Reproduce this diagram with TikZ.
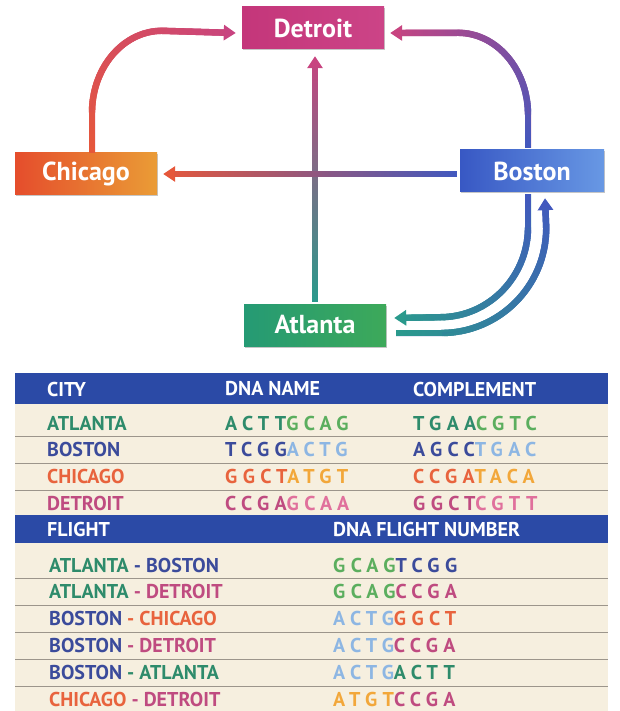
\documentclass[tikz,border=0pt]{standalone}
\usepackage{fontspec}
\setmainfont{PT Sans}
\usetikzlibrary{positioning,arrows.meta,decorations.markings,shadows}

\definecolor{atlD}{HTML}{2E8B6B}
\definecolor{atlL}{HTML}{5BAE5E}
\definecolor{bosD}{HTML}{3B4B9B}
\definecolor{bosL}{HTML}{8DB6E3}
\definecolor{chiD}{HTML}{E8633D}
\definecolor{chiL}{HTML}{F2A73A}
\definecolor{detD}{HTML}{BF4B80}
\definecolor{detL}{HTML}{E0709C}
\definecolor{headBlue}{HTML}{2B4AA6}
\definecolor{cream}{HTML}{F6EFDF}
\definecolor{rowGray}{HTML}{9C958B}
\definecolor{flowChi}{HTML}{E6573A}
\definecolor{flowDet}{HTML}{C84480}
\definecolor{flowBos}{HTML}{4258BE}
\definecolor{flowAtl}{HTML}{2A9A8C}
\definecolor{detBoxA}{HTML}{C4367A}
\definecolor{detBoxB}{HTML}{CC4487}
\definecolor{chiBoxA}{HTML}{E54D2C}
\definecolor{chiBoxB}{HTML}{EA9C36}
\definecolor{bosBoxA}{HTML}{3858C4}
\definecolor{bosBoxB}{HTML}{6898E4}
\definecolor{atlBoxA}{HTML}{259A74}
\definecolor{atlBoxB}{HTML}{3DA95A}

\newcommand{\tabfont}{\fontsize{20}{24}\selectfont\bfseries}
\newcommand{\dna}[4]{{\addfontfeature{LetterSpace=27}\textcolor{#1}{#2}\textcolor{#3}{#4}}}

\tikzset{
	citybox/.style={minimum width=142pt,minimum height=42pt,inner sep=0pt,
		text=white,font=\fontsize{26}{30}\selectfont\bfseries,
		drop shadow={shadow xshift=1.2pt,shadow yshift=-1.5pt,opacity=0.45}},
	flow/.style 2 args={line width=6pt,draw=#2,-{Triangle[length=12pt,width=15pt]},
		postaction={decorate,decoration={markings,
			mark=between positions 0 and -11pt step 0.5pt with {
				\pgfmathtruncatemacro\fpos{\pgfkeysvalueof{/pgf/decoration/mark info/distance from start}/\pgfdecoratedpathlength*100}
				\fill[#2!\fpos!#1] (-0.45pt,-3.2pt) rectangle (0.45pt,3.2pt);}}}},
	celltext/.style={anchor=west,inner sep=0pt,font=\tabfont},
	headtext/.style={celltext,text=white},
	rowline/.style={draw=rowGray,line width=0.8pt}
}

\begin{document}
\begin{tikzpicture}[x=1pt,y=1pt]
	\useasboundingbox (0,0) rectangle (620,-711);
	% city boxes
	\node[citybox,left color=detBoxA,right color=detBoxB] (detroit) at (313,-28) {Detroit};
	\node[citybox,left color=chiBoxA,right color=chiBoxB] (chicago) at (86,-174) {Chicago};
	\node[citybox,minimum width=144pt,left color=bosBoxA,right color=bosBoxB] (boston) at (532,-171) {Boston};
	\node[citybox,left color=atlBoxA,right color=atlBoxB] (atlanta) at (315,-325) {Atlanta};
	% flights
	\draw[flow={flowChi}{flowDet}] ([xshift=6pt]chicago.north) -- ++(0,40)
		arc[start angle=180,end angle=90,x radius=70,y radius=82] -- ([xshift=-6pt,yshift=-5pt]detroit.west);
	\draw[flow={flowBos}{flowDet}] ([xshift=-4pt,yshift=2pt]boston.north) -- ++(0,33)
		arc[start angle=0,end angle=90,x radius=70,y radius=82] -- ([xshift=6pt,yshift=-5pt]detroit.east);
	\draw[flow={flowAtl}{flowDet}] ([yshift=2pt]atlanta.north) -- ([xshift=2pt,yshift=-7pt]detroit.south);
	\draw[flow={flowBos}{flowChi}] ([xshift=-3pt]boston.west |- chicago) -- ([xshift=6pt]chicago.east);
	\draw[flow={flowBos}{flowAtl}] ([xshift=-4pt,yshift=-2pt]boston.south) -- ++(0,-33)
		arc[start angle=0,end angle=-90,x radius=88,y radius=90] -- ([xshift=8pt,yshift=7pt]atlanta.east);
	\draw[flow={flowAtl}{flowBos}] ([xshift=10pt,yshift=-8pt]atlanta.east) -- ++(45,0)
		arc[start angle=-90,end angle=0,x radius=105,y radius=105] -- ([xshift=13pt,yshift=-6pt]boston.south);
	% tables
	\fill[cream] (15,-402) rectangle (608,-711);
	\fill[headBlue] (15,-373) rectangle (608,-404);
	\fill[headBlue] (15,-515) rectangle (608,-543);
	\draw[rowline] (15,-436) -- (608,-436);
	\draw[rowline] (15,-463) -- (608,-463);
	\draw[rowline] (15,-490) -- (608,-490);
	\draw[rowline] (15,-578) -- (608,-578);
	\draw[rowline] (15,-605) -- (608,-605);
	\draw[rowline] (15,-632) -- (608,-632);
	\draw[rowline] (15,-659) -- (608,-659);
	\draw[rowline] (15,-686) -- (608,-686);
	\node[headtext] (hcity) at (47,-389) {CITY};
	\node[headtext] (hname) at (225,-389) {DNA NAME};
	\node[headtext] (hcomp) at (413,-389) {COMPLEMENT};
	\node[celltext,text=atlD] (catl) at (47,-423) {ATLANTA};
	\node[celltext] (natl) at (225,-423) {\dna{atlD}{ACTT}{atlL}{GCAG}};
	\node[celltext] (pat) at (413,-423) {\dna{atlD}{TGAA}{atlL}{CGTC}};
	\node[celltext,text=bosD] (cbos) at (47,-449) {BOSTON};
	\node[celltext] (nbos) at (225,-449) {\dna{bosD}{TCGG}{bosL}{ACTG}};
	\node[celltext] (pbos) at (413,-449) {\dna{bosD}{AGCC}{bosL}{TGAC}};
	\node[celltext,text=chiD] (cchi) at (47,-476) {CHICAGO};
	\node[celltext] (nchi) at (225,-476) {\dna{chiD}{GGCT}{chiL}{ATGT}};
	\node[celltext] (pchi) at (413,-476) {\dna{chiD}{CCGA}{chiL}{TACA}};
	\node[celltext,text=detD] (cdet) at (47,-503) {DETROIT};
	\node[celltext] (ndet) at (225,-503) {\dna{detD}{CCGA}{detL}{GCAA}};
	\node[celltext] (pdet) at (413,-503) {\dna{detD}{GGCT}{detL}{CGTT}};
	\node[headtext] (hflight) at (47,-529) {FLIGHT};
	\node[headtext] (hnum) at (333,-529) {DNA FLIGHT NUMBER};
	\node[celltext] (fab) at (49,-565) {\textcolor{atlD}{ATLANTA} \textcolor{bosD}{- BOSTON}};
	\node[celltext] (nab) at (333,-565) {\dna{atlL}{GCAG}{bosD}{TCGG}};
	\node[celltext] (fad) at (49,-591) {\textcolor{atlD}{ATLANTA} \textcolor{detD}{- DETROIT}};
	\node[celltext] (nad) at (333,-591) {\dna{atlL}{GCAG}{detD}{CCGA}};
	\node[celltext] (fbc) at (49,-618) {\textcolor{bosD}{BOSTON} \textcolor{chiD}{- CHICAGO}};
	\node[celltext] (nbc) at (333,-618) {\dna{bosL}{ACTG}{chiD}{GGCT}};
	\node[celltext] (fbd) at (49,-645) {\textcolor{bosD}{BOSTON} \textcolor{detD}{- DETROIT}};
	\node[celltext] (nbd) at (333,-645) {\dna{bosL}{ACTG}{detD}{CCGA}};
	\node[celltext] (fba) at (49,-672) {\textcolor{bosD}{BOSTON} \textcolor{atlD}{- ATLANTA}};
	\node[celltext] (nba) at (333,-672) {\dna{bosL}{ACTG}{atlD}{ACTT}};
	\node[celltext] (fcd) at (49,-699) {\textcolor{chiD}{CHICAGO} \textcolor{detD}{- DETROIT}};
	\node[celltext] (ncd) at (333,-699) {\dna{chiL}{ATGT}{detD}{CCGA}};
\end{tikzpicture}
\end{document}
